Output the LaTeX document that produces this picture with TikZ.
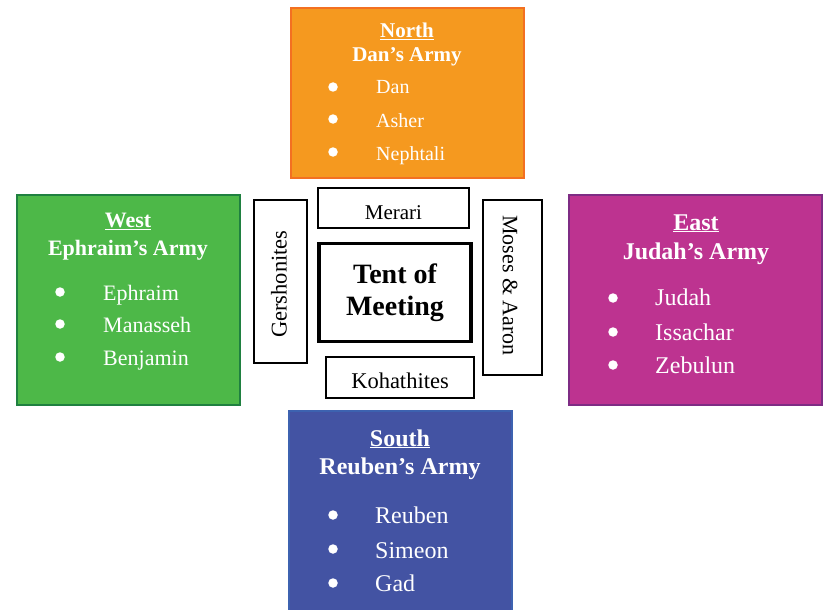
\documentclass[tikz,border=0pt]{standalone}
\usepackage{fontspec}
\setmainfont{Liberation Serif}
\definecolor{northfill}{HTML}{F5991F}
\definecolor{northline}{HTML}{F37021}
\definecolor{westfill}{HTML}{4DB848}
\definecolor{westline}{HTML}{1F8040}
\definecolor{eastfill}{HTML}{BD3390}
\definecolor{eastline}{HTML}{7E2C84}
\definecolor{southfill}{HTML}{4353A3}
\definecolor{southline}{HTML}{3D62B0}
\newcommand{\fsz}[1]{\fontsize{#1}{#1}\selectfont}
\begin{document}
\begin{tikzpicture}[x=1pt, y=-1pt,
	army/.style={rectangle, draw, line width=2pt, inner sep=0pt},
	tribe/.style={circle, fill=white, inner sep=0pt, minimum size=9.5pt},
	levi/.style={rectangle, draw=black, line width=1.2pt, inner sep=0pt},
	head/.style={text=white, font=\bfseries, inner sep=0pt, anchor=base},
	item/.style={text=white, inner sep=0pt, anchor=base west}]
		% \draw[help lines] (0,0) grid (825,610);
		\useasboundingbox (0,0) rectangle (825,610);

		% armies
		\node[army, fill=northfill, draw=northline, minimum width=233pt, minimum height=170pt] (north) at (407.5,93) {};
		\node[army, fill=westfill, draw=westline, minimum width=223pt, minimum height=210pt] (west) at (128.5,300) {};
		\node[army, fill=eastfill, draw=eastline, minimum width=253pt, minimum height=210pt] (east) at (695.5,300) {};
		\node[army, fill=southfill, draw=southline, minimum width=223pt, minimum height=205pt] (south) at (400.5,513.5) {};

		% levites
		\node[levi, minimum width=151pt, minimum height=40pt] (merari) at (393.5,208) {};
		\node[inner sep=0pt] (meraritxt) at (393.5,212.5) {\fsz{21}Merari};
		\node[levi, minimum width=148pt, minimum height=41pt] (kohath) at (400,377.5) {};
		\node[inner sep=0pt] (kohathtxt) at (400,380.5) {\fsz{22.5}Kohathites};
		\node[levi, minimum width=53pt, minimum height=163pt] (gershon) at (280.5,281.5) {};
		\node[rotate=90, inner sep=0pt] (gershontxt) at (279,284) {\fsz{22.5}Gershonites};
		\node[levi, minimum width=59pt, minimum height=175pt] (moses) at (512.5,287.5) {};
		\node[rotate=-90, inner sep=0pt] (mosestxt) at (510,285.5) {\fsz{22}Moses \& Aaron};
		\node[rectangle, draw=black, line width=3.5pt, minimum width=152pt, minimum height=98pt, align=center,
			font=\bfseries\fsz{28}] (tent) at (395,292.5) {Tent of\\[4pt]Meeting};

		% north
		\node[head] (northhd) at (407,38) {\fsz{21}\underline{North}};
		\node[head] (dan) at (407,62) {\fsz{21}Dan’s Army};
		\node[tribe] (n1) at (333,87) {};
		\node[tribe] (n2) at (333,119) {};
		\node[tribe] (n3) at (333,152) {};
		\node[item] (n1t) at (376,94) {\fsz{20}Dan};
		\node[item] (n2t) at (376,127) {\fsz{20}Asher};
		\node[item] (n3t) at (376,160) {\fsz{20}Nephtali};

		% west
		\node[head] (westhd) at (128,227) {\fsz{22}\underline{West}};
		\node[head] (ephraim) at (128,255) {\fsz{22}Ephraim’s Army};
		\node[tribe] (w1) at (60,292) {};
		\node[tribe] (w2) at (60,324) {};
		\node[tribe] (w3) at (60,357) {};
		\node[item] (w1t) at (103,300) {\fsz{22}Ephraim};
		\node[item] (w2t) at (103,332) {\fsz{22}Manasseh};
		\node[item] (w3t) at (103,365) {\fsz{22}Benjamin};

		% east
		\node[head] (easthd) at (696,230) {\fsz{24}\underline{East}};
		\node[head] (judah) at (696,259) {\fsz{24}Judah’s Army};
		\node[tribe] (e1) at (613,298) {};
		\node[tribe] (e2) at (613,332) {};
		\node[tribe] (e3) at (613,365) {};
		\node[item] (e1t) at (655,305) {\fsz{24}Judah};
		\node[item] (e2t) at (655,340) {\fsz{24}Issachar};
		\node[item] (e3t) at (655,373) {\fsz{24}Zebulun};

		% south
		\node[head] (southhd) at (400,446) {\fsz{24}\underline{South}};
		\node[head] (reuben) at (400,474) {\fsz{24}Reuben’s Army};
		\node[tribe] (s1) at (333,515) {};
		\node[tribe] (s2) at (333,549) {};
		\node[tribe] (s3) at (333,583) {};
		\node[item] (s1t) at (375,523) {\fsz{24}Reuben};
		\node[item] (s2t) at (375,558) {\fsz{24}Simeon};
		\node[item] (s3t) at (375,591) {\fsz{24}Gad};
	\end{tikzpicture}
\end{document}
